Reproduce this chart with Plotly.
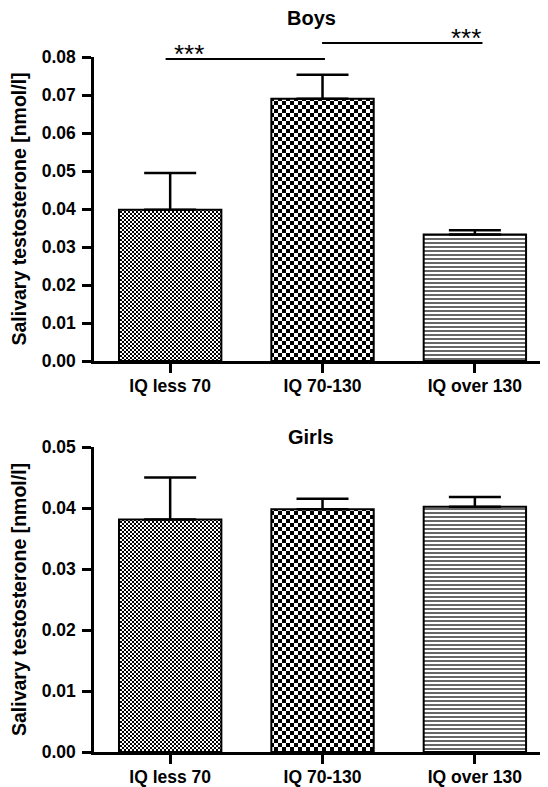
import plotly.graph_objects as go

categories = ["IQ less 70", "IQ 70-130", "IQ over 130"]
boys_mean = [0.0398, 0.0690, 0.0333]
boys_err = [0.0097, 0.0063, 0.0011]
girls_mean = [0.0381, 0.0398, 0.0402]
girls_err = [0.0069, 0.0017, 0.0016]
boys_ticks = [0.00, 0.01, 0.02, 0.03, 0.04, 0.05, 0.06, 0.07, 0.08]
girls_ticks = [0.00, 0.01, 0.02, 0.03, 0.04, 0.05]
# significance brackets: (from x, to x, height, label, star alignment)
boys_sig = [(-0.03, 1.016, 0.0795, "***", "left"), (0.997, 2.05, 0.0837, "***", "right")]

FONT = "Liberation Sans"
OFF = 8  # default page body margin
W, H = 548 - OFF, 787 - OFF
ML, MR, MT, MB = 94 - OFF, 0, 57 - OFF, H - (752 - OFF)
ph = H - MT - MB
pw = W - ML - MR
top_dom = [(H - MB - (361 - OFF)) / ph, 1.0]
bot_dom = [0.0, (H - MB - (447 - OFF)) / ph]

patterns = [
    dict(path="M0,0H2V2H0ZM2,2H4V4H2Z", size=4, fgcolor="black", bgcolor="white", fillmode="replace"),
    dict(path="M0,0H4V4H0ZM4,4H8V8H4Z", size=8, fgcolor="black", bgcolor="white", fillmode="replace"),
    dict(shape="-", size=4, solidity=0.3, fgcolor="black", bgcolor="white", fillmode="replace"),
]

fig = go.Figure()
for means, errs, ax in [(boys_mean, boys_err, "y"), (girls_mean, girls_err, "y2")]:
    for i, c in enumerate(categories):
        fig.add_trace(go.Bar(
            x=[i], y=[means[i]], width=0.672,
            xaxis="x" if ax == "y" else "x2", yaxis=ax,
            marker=dict(color="white", pattern=patterns[i], line=dict(color="black", width=2)),
            error_y=dict(type="data", symmetric=False, array=[errs[i]], arrayminus=[0],
                         color="black", thickness=2.5, width=26),
            showlegend=False, hoverinfo="skip",
        ))

xr = [-0.5, 2.48]
axis_common = dict(showgrid=False, zeroline=False, showline=True, linecolor="black", linewidth=2.5,
                   ticks="outside", tickcolor="black", tickwidth=2.5, ticklen=9, automargin=False)
ytitle = dict(text="<b>Salivary testosterone [nmol/l]</b>", standoff=11,
              font=dict(family=FONT, size=19.5, color="black"))
yfont = dict(family=FONT, size=17.5, color="black")
xfont = dict(family=FONT, size=17.5, color="black")
fig.update_layout(
    width=W, height=H, margin=dict(l=ML, r=MR, t=MT, b=MB, autoexpand=False),
    paper_bgcolor="white", plot_bgcolor="white",
    xaxis=dict(domain=[0, 1], range=xr, anchor="y", tickvals=[0, 1, 2],
               ticktext=[f"<b>{c}</b>" for c in categories], tickfont=xfont,
               ticklabelstandoff=-2, **axis_common),
    yaxis=dict(domain=top_dom, range=[0, 0.08], anchor="x", tickvals=boys_ticks,
               ticktext=[f"<b>{t:.2f}</b>" for t in boys_ticks], tickfont=yfont,
               ticklabelstandoff=3, title=ytitle, **axis_common),
    xaxis2=dict(domain=[0, 1], range=xr, anchor="y2", tickvals=[0, 1, 2],
                ticktext=[f"<b>{c}</b>" for c in categories], tickfont=xfont,
                ticklabelstandoff=-2, **axis_common),
    yaxis2=dict(domain=bot_dom, range=[0, 0.05], anchor="x2", tickvals=girls_ticks,
                ticktext=[f"<b>{t:.2f}</b>" for t in girls_ticks], tickfont=yfont,
                ticklabelstandoff=3, title=ytitle, **axis_common),
)

def to_paper(v, dom, ymax):
    return dom[0] + v / ymax * (dom[1] - dom[0])

for a, b, h, lab, side in boys_sig:
    yp = to_paper(h, top_dom, 0.08)
    fig.add_shape(type="line", xref="x", yref="paper", x0=a, x1=b,
                  y0=yp, y1=yp, line=dict(color="black", width=2))
    fig.add_annotation(x=a if side == "left" else b, xref="x", y=yp, yref="paper",
                       text=lab, showarrow=False, xanchor=side, yanchor="middle",
                       xshift=6 if side == "left" else 1, yshift=5,
                       font=dict(family=FONT, size=26, color="black"))

def px_to_paper_x(px):
    return (px - OFF - ML) / pw

def px_to_paper_y(py):
    return (H - MB - (py - OFF)) / ph

fig.add_annotation(text="<b>Boys</b>", x=px_to_paper_x(311), xref="paper", y=px_to_paper_y(18),
                   yref="paper", showarrow=False, xanchor="center", yanchor="middle",
                   font=dict(family=FONT, size=20, color="black"))
fig.add_annotation(text="<b>Girls</b>", x=px_to_paper_x(311), xref="paper", y=px_to_paper_y(437),
                   yref="paper", showarrow=False, xanchor="center", yanchor="middle",
                   font=dict(family=FONT, size=20, color="black"))

fig.write_html("out.html")
